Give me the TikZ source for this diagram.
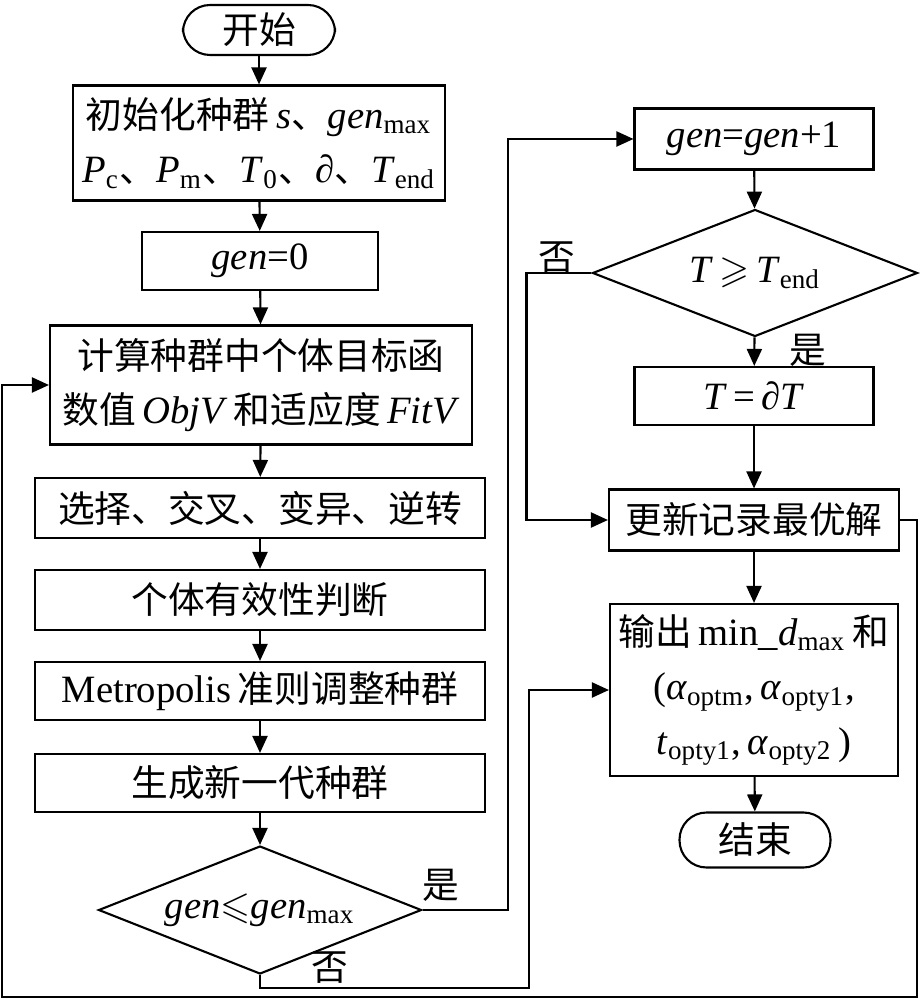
\documentclass[tikz,border=0pt]{standalone}
\usepackage{fontspec}
\usepackage{amssymb}
\setmainfont{Liberation Serif}
\newfontfamily\cjk[Scale=0.95]{Noto Sans CJK SC}
\usetikzlibrary{shapes.geometric,arrows.meta,positioning}
\newcommand{\zh}[1]{{\cjk #1}}
\newcommand{\lo}[1]{\textsubscript{#1}}

\begin{document}
\begin{tikzpicture}[
    every node/.style={font=\fontsize{11}{15.5}\selectfont},
    box/.style={draw, line width=0.6pt, align=center, inner sep=1pt},
    term/.style={draw, line width=0.6pt, rounded corners=0.27cm, inner sep=1pt},
    dec/.style={draw, diamond, line width=0.6pt, aspect=2.5, inner sep=0pt},
    arr/.style={line width=0.6pt, -{Triangle[length=1.7mm, width=1.5mm]}}
]
    \useasboundingbox (0,0) rectangle (9.19,-10);
    \node[term, minimum width=1.52cm, minimum height=0.5cm] (start) at (2.59,-0.30) {\zh{开始}};
    \node[box, minimum width=3.72cm, minimum height=1.15cm] (init) at (2.59,-1.43)
        {\zh{初始化种群}\,\textit{s}\zh{、}\textit{gen}\lo{max}\\
         \textit{P}\lo{c}\zh{、}\textit{P}\lo{m}\zh{、}\textit{T}\lo{0}\zh{、}∂\zh{、}\textit{T}\lo{end}};
    \node[box, minimum width=2.36cm, minimum height=0.58cm] (gen0) at (2.60,-2.61) {\textit{gen}=0};
    \node[box, minimum width=4.22cm, minimum height=1.19cm] (calc) at (2.61,-3.85)
        {\zh{计算种群中个体目标函}\\ \zh{数值}\,\textit{ObjV}\,\zh{和适应度}\,\textit{FitV}};
    \node[box, minimum width=4.5cm, minimum height=0.6cm] (sel) at (2.60,-5.08) {\zh{选择、交叉、变异、逆转}};
    \node[box, minimum width=4.5cm, minimum height=0.6cm] (valid) at (2.60,-6.00) {\zh{个体有效性判断}};
    \node[box, minimum width=4.5cm, minimum height=0.58cm] (metro) at (2.60,-6.91) {Metropolis\,\zh{准则调整种群}};
    \node[box, minimum width=4.5cm, minimum height=0.58cm] (newgen) at (2.60,-7.83) {\zh{生成新一代种群}};
    \node[dec, minimum width=3.23cm, minimum height=1.28cm] (dec1) at (2.60,-9.10)
        {\textit{gen}$\leqslant$\textit{gen}\lo{max}};

    \node[box, minimum width=2.39cm, minimum height=0.61cm] (inc) at (7.54,-1.39) {\textit{gen}=\textit{gen}+1};
    \node[dec, minimum width=3.25cm, minimum height=1.27cm] (dec2) at (7.55,-2.73)
        {\textit{T}\,$\geqslant$\,\textit{T}\lo{end}};
    \node[box, minimum width=2.39cm, minimum height=0.58cm] (cool) at (7.54,-3.96) {\textit{T}\,=\,∂\textit{T}};
    \node[box, minimum width=2.9cm, minimum height=0.61cm] (upd) at (7.54,-5.20) {\zh{更新记录最优解}};
    \node[box, minimum width=2.88cm, minimum height=1.72cm] (out) at (7.54,-6.90)
        {\zh{输出}\,min\_\textit{d}\lo{max}\,\zh{和}\\
         (\textit{α}\lo{optm},\,\textit{α}\lo{opty1},\\
         \textit{t}\lo{opty1},\,\textit{α}\lo{opty2}\,)};
    \node[term, minimum width=1.51cm, minimum height=0.55cm] (end) at (7.55,-8.40) {\zh{结束}};

    \foreach \a/\b in {start/init, init/gen0, gen0/calc, calc/sel, sel/valid, valid/metro,
        metro/newgen, newgen/dec1, inc/dec2, dec2/cool, cool/upd, upd/out, out/end}
        \draw[arr] (\a) -- (\b);

    \draw[arr] (dec1.east) -- ++(0.85,0) |- (inc.west);
    \draw[arr] (dec1.south) |- (5.29,-9.88) |- (out.west);
    \draw[arr] (dec2.west) -- ++(-0.65,0) |- (upd.west);
    \draw[arr] (upd.east) -| (9.17,-9.97) -- (0.02,-9.97) |- (calc.west);

    \node (yes1) at (4.41,-8.85) {\zh{是}};
    \node (no1) at (3.30,-9.68) {\zh{否}};
    \node (no2) at (5.57,-2.58) {\zh{否}};
    \node (yes2) at (8.08,-3.50) {\zh{是}};
\end{tikzpicture}
\end{document}
